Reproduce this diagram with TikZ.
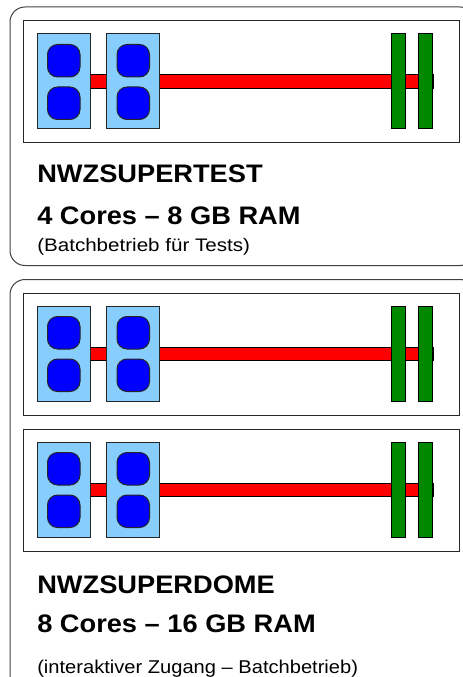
\documentclass[tikz,border=0pt]{standalone}
\usepackage{fontspec}
\setmainfont{Liberation Sans}
\newfontfamily\titlefont[FakeStretch=1.075]{Liberation Sans}
\newfontfamily\notefont[FakeStretch=1.085]{Liberation Sans}
\newfontfamily\noteAfont[FakeStretch=1.135]{Liberation Sans}
\tikzset{
  px/.style={x=0.75pt,y=-0.75pt},
  outerbox/.style={draw=black!75,line width=0.75pt,rounded corners=11.25pt},
  serverbox/.style={draw=black!85,line width=0.75pt,fill=white},
  cpubox/.style={draw=black!85,line width=0.75pt,fill=cpublue},
  corebox/.style={draw=black!85,line width=0.75pt,fill=blue,rounded corners=7.5pt},
  busbar/.style={draw=black,line width=0.75pt,fill=red},
  slotbar/.style={draw=black,line width=0.75pt,fill=slotgreen},
  title/.style={anchor=base west,inner sep=0pt,font=\titlefont\bfseries\fontsize{19pt}{24pt}\selectfont},
  note/.style={anchor=base west,inner sep=0pt,font=\notefont\fontsize{13.9pt}{18pt}\selectfont},
  noteA/.style={anchor=base west,inner sep=0pt,font=\noteAfont\fontsize{13.6pt}{18pt}\selectfont},
}
\definecolor{cpublue}{HTML}{87CEFF}
\definecolor{slotgreen}{HTML}{008800}
\newcommand{\serverunit}[1]{%
  \begin{scope}[yshift=-#1*0.75pt]
    \draw[serverbox] (23.5,21) rectangle (459.5,143);
    \draw[busbar] (90,75) rectangle (433,88.5);
    \foreach \cx in {37,106.5}{
      \draw[cpubox] (\cx,34) rectangle ++(53,95);
      \draw[corebox] (\cx+10.5,44.5) rectangle ++(32.5,32.5);
      \draw[corebox] (\cx+10.5,87) rectangle ++(32.5,32.5);
    }
    \draw[slotbar] (391,34) rectangle (405,129);
    \draw[slotbar] (418.5,34) rectangle (432,129);
  \end{scope}}
\begin{document}
\begin{tikzpicture}[px]
  \useasboundingbox (0,0) rectangle (463,677);
  \clip (0,0) rectangle (463,677);
  \draw[outerbox] (10,7) rectangle (475,265.5);
  \draw[outerbox] (10,279.5) rectangle (475,690);
  \serverunit{0}
  \serverunit{272}
  \serverunit{408}
  \node[title] (t1) at (37,183) {NWZSUPERTEST};
  \node[title] (t2) at (37,224) {4 Cores – 8 GB RAM};
  \node[noteA] (t3) at (37,251) {(Batchbetrieb für Tests)};
  \node[title] (t4) at (37,593) {NWZSUPERDOME};
  \node[title] (t5) at (37,632) {8 Cores – 16 GB RAM};
  \node[note] (t6) at (37,673) {(interaktiver Zugang – Batchbetrieb)};
\end{tikzpicture}
\end{document}
